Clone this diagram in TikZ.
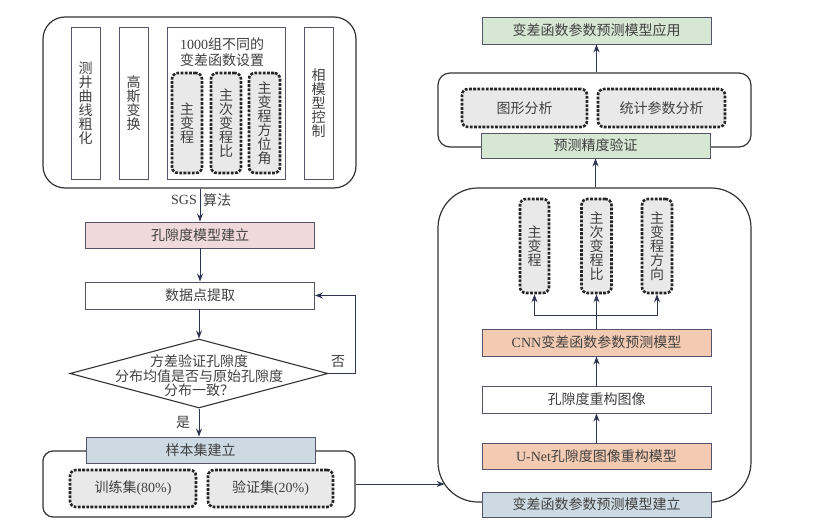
\documentclass[tikz,border=0pt]{standalone}
\usepackage{fontspec}
\setmainfont{Noto Sans CJK SC}
\newfontfamily\lat{Liberation Serif}
\usetikzlibrary{shapes.geometric,arrows.meta}
\definecolor{txtc}{HTML}{404040}
\definecolor{edgec}{HTML}{55556A}
\definecolor{outc}{HTML}{333333}
\definecolor{dashc}{HTML}{262626}
\definecolor{dfill}{HTML}{E9E9E9}
\definecolor{arrc}{HTML}{2E3552}
\definecolor{pinkc}{HTML}{EFD9DA}
\definecolor{bluec}{HTML}{CDDAE3}
\definecolor{salc}{HTML}{F3CBB3}
\definecolor{greenc}{HTML}{D6E7D3}
\begin{document}
\begin{tikzpicture}[x=1pt,y=-1pt,
  txt/.style={text=txtc, font=\fontsize{14}{14}\selectfont, inner sep=0pt, align=center},
  thinbox/.style={txt, draw=edgec, line width=0.9pt, fill=white},
  outerbox/.style={draw=outc, line width=1.2pt, inner sep=0pt},
  dbox/.style={txt, draw=dashc, line width=2.6pt, dash pattern=on 2.8pt off 1.4pt, rounded corners=6pt, fill=dfill},
  arr/.style={draw=arrc, line width=1pt, -{Stealth[length=8pt,width=6pt]}},
  wide/.style={thinbox, minimum width=229pt, minimum height=26pt},
  tall/.style={thinbox, minimum width=29pt, minimum height=152pt},
  rtall/.style={dbox, minimum width=29pt, minimum height=94pt},
  ltall/.style={dbox, minimum width=30pt, minimum height=100pt}
]
\useasboundingbox (0,0) rectangle (817,532);

% ---------------- left column ----------------
\node[outerbox, rounded corners=22pt, minimum width=313pt, minimum height=171pt] (tl) at (199.5,102.5) {};
\node[tall] (b1) at (85.5,103) {测\\井\\曲\\线\\粗\\化};
\node[tall] (b2) at (133.5,103) {高\\斯\\变\\换};
\node[thinbox, minimum width=118pt, minimum height=152pt] (b3) at (226,103) {};
\node[txt, font=\fontsize{14}{16}\selectfont] (b3t) at (222,52) {{\lat 1000}组不同的\\变差函数设置};
\node[ltall] (d1) at (187,123) {主\\变\\程};
\node[ltall] (d2) at (226,123) {主\\次\\变\\程\\比};
\node[ltall, minimum width=31pt] (d3) at (264.5,123) {主\\变\\程\\方\\位\\角};
\node[tall] (b4) at (318.5,103) {相\\模\\型\\控\\制};

\node[wide, fill=pinkc] (k) at (200,235) {孔隙度模型建立};
\draw[arr] (tl.south -| k.north) -- (k.north);
\node[txt, anchor=east] (sgs) at (197,200) {\lat SGS};
\node[txt, anchor=west] (sf) at (203,200) {算法};

\node[wide, minimum height=27pt] (data) at (200,295.5) {数据点提取};
\draw[arr] (k.south) -- (data.north);

\node[diamond, draw=outc, line width=1.1pt, minimum width=258pt, minimum height=69pt, inner sep=0pt] (dia) at (199,373.5) {};
\node[txt, font=\fontsize{14}{14.5}\selectfont] (diat) at (199,376) {方差验证孔隙度\\分布均值是否与原始孔隙度\\分布一致？};
\draw[arr] (data.south -| dia.north) -- (dia.north);
\draw[arr] (dia.east) -- ++(27,0) |- (data.east);
\node[txt] (no) at (338,362) {否};

\node[outerbox, rounded corners=10pt, minimum width=312pt, minimum height=66pt] (bl) at (199,484) {};
\node[wide, fill=bluec] (samp) at (200.5,450) {样本集建立};
\draw[arr] (dia.south) -- (dia.south |- samp.north);
\node[txt] (yes) at (183,422) {是};
\node[dbox, minimum width=126pt, minimum height=37pt] (train) at (133,488.5) {训练集{\lat (80\%)}};
\node[dbox, minimum width=125pt, minimum height=37pt] (val) at (270.5,488.5) {验证集{\lat (20\%)}};

% ---------------- right column ----------------
\node[outerbox, rounded corners=40pt, minimum width=313pt, minimum height=314pt] (rb) at (594.5,345) {};
\coordinate (rbin) at (444.6,484);
\draw[arr] (bl.east) -- (rbin);

\node[wide, minimum height=25pt, fill=bluec] (est) at (596.5,504.5) {变差函数参数预测模型建立};
\node[wide, fill=salc] (unet) at (596.5,456) {{\lat U-Net}孔隙度图像重构模型};
\node[wide, minimum height=27pt] (rec) at (596.5,399.5) {孔隙度重构图像};
\node[wide, minimum height=27pt, fill=salc] (cnn) at (596.5,342.5) {{\lat CNN}变差函数参数预测模型};
\draw[arr] (unet.north) -- (rec.south);
\draw[arr] (rec.north) -- (cnn.south);

\node[rtall] (r1) at (534.5,246) {主\\变\\程};
\node[rtall, minimum width=30pt] (r2) at (596.5,246) {主\\次\\变\\程\\比};
\node[rtall, minimum width=30pt] (r3) at (657,246) {主\\变\\程\\方\\向};
\coordinate (br) at (596.5,315);
\draw[arr] (cnn.north) -- (r2.south);
\draw[arr] (br) -| (r1.south);
\draw[arr] (br) -| (r3.south);

\node[outerbox, rounded corners=12pt, minimum width=313pt, minimum height=74pt] (ub) at (594.5,110) {};
\node[dbox, minimum width=125pt, minimum height=38pt] (fig) at (524.5,108) {图形分析};
\node[dbox, minimum width=127pt, minimum height=38pt] (stat) at (661.5,108) {统计参数分析};
\node[wide, minimum height=25pt, fill=greenc] (acc) at (595.5,145.5) {预测精度验证};
\draw[arr] (rb.north -| acc.south) -- (acc.south);

\node[wide, minimum height=27pt, fill=greenc] (app) at (596.5,30.5) {变差函数参数预测模型应用};
\draw[arr] (ub.north -| app.south) -- (app.south);
\end{tikzpicture}
\end{document}
